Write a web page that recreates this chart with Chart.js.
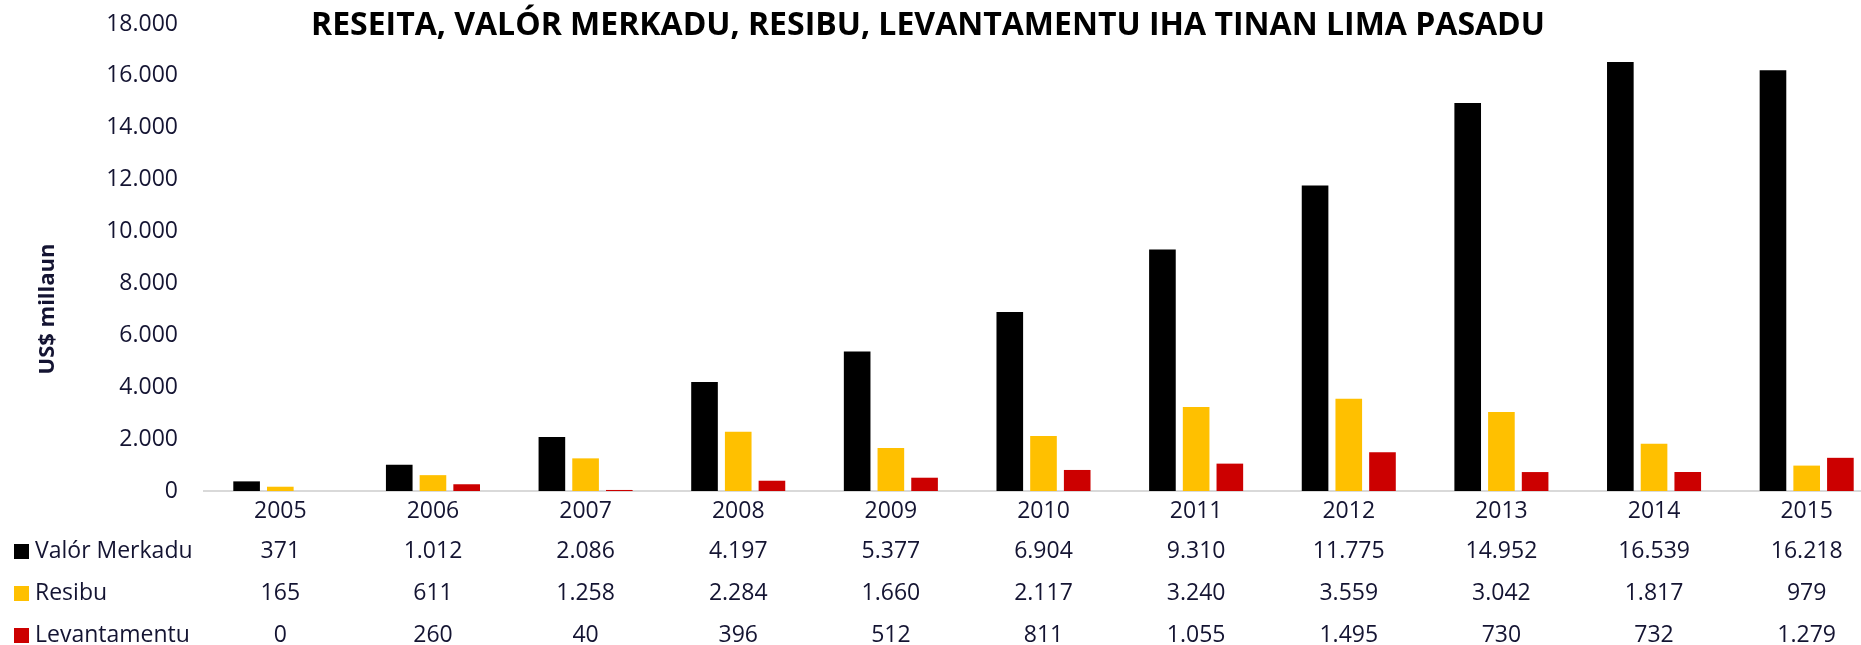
<!DOCTYPE html>
<html>
<head>
<meta charset="utf-8">
<script src="https://cdn.jsdelivr.net/npm/chart.js@4.4.1/dist/chart.umd.min.js"></script>
<style>
  html, body { margin: 0; padding: 0; background: #fff; overflow: hidden; }
  #wrap { width: 1861px; height: 645px; overflow: hidden; }
</style>
</head>
<body>
<div id="wrap">
  <canvas id="myChart" width="1890" height="645"></canvas>
</div>
<script>
const anos = ['2005', '2006', '2007', '2008', '2009', '2010', '2011', '2012', '2013', '2014', '2015'];
const valorMerkadu = [371, 1012, 2086, 4197, 5377, 6904, 9310, 11775, 14952, 16539, 16218];
const resibu = [165, 611, 1258, 2284, 1660, 2117, 3240, 3559, 3042, 1817, 979];
const levantamentu = [0, 260, 40, 396, 512, 811, 1055, 1495, 730, 732, 1279];
const naranSerie = ['Valór Merkadu', 'Resibu', 'Levantamentu'];
const koresSerie = ['#000000', '#FFC000', '#CC0000'];
const titulu = 'RESEITA, VALÓR MERKADU, RESIBU, LEVANTAMENTU IHA TINAN LIMA PASADU';
const tituluEixoY = 'US$ millaun';

const koresTestu = '#141432';

function formatNumeru(v) {
  return String(v).replace(/\B(?=(\d{3})+(?!\d))/g, '.');
}

Chart.defaults.font.family = "'Open Sans', sans-serif";

const tabelaPlugin = {
  id: 'tabelaDadus',
  afterDraw(chart) {
    const ctx = chart.ctx;
    const x = chart.scales.x;
    const series = [valorMerkadu, resibu, levantamentu];
    const linhaY = [551, 593, 635];

    ctx.save();
    // titulu
    ctx.fillStyle = '#000';
    ctx.font = "bold 32px 'Open Sans', sans-serif";
    ctx.textAlign = 'center';
    ctx.textBaseline = 'middle';
    ctx.fillText(titulu, 928, 26);

    // titulu eixo Y
    ctx.save();
    ctx.translate(48, 309);
    ctx.rotate(-Math.PI / 2);
    ctx.fillStyle = koresTestu;
    ctx.font = "bold 22px 'Open Sans', sans-serif";
    ctx.fillText(tituluEixoY, 0, 0);
    ctx.restore();

    // tabela
    ctx.font = "23px 'Open Sans', sans-serif";
    series.forEach((dadus, r) => {
      const y = linhaY[r];
      ctx.fillStyle = koresSerie[r];
      ctx.fillRect(14, y - 7, 15, 15);
      ctx.fillStyle = koresTestu;
      ctx.textAlign = 'left';
      ctx.fillText(naranSerie[r], 35, y);
      ctx.textAlign = 'center';
      dadus.forEach((v, i) => {
        ctx.fillText(formatNumeru(v), x.getPixelForValue(i), y);
      });
    });
    ctx.restore();
  }
};

const ctx = document.getElementById('myChart').getContext('2d');

const data = {
  labels: anos,
  datasets: [
    { label: naranSerie[0], data: valorMerkadu, backgroundColor: koresSerie[0] },
    { label: naranSerie[1], data: resibu, backgroundColor: koresSerie[1] },
    { label: naranSerie[2], data: levantamentu, backgroundColor: koresSerie[2] },
  ],
};

const config = {
  type: 'bar',
  data: data,
  options: {
    responsive: false,
    animation: false,
    categoryPercentage: 0.6625,
    barPercentage: 0.79,
    layout: { padding: { left: 0, right: 7, top: 24, bottom: 0 } },
    plugins: {
      legend: { display: false },
      tooltip: { enabled: false },
    },
    scales: {
      x: {
        grid: { display: false, drawTicks: false },
        border: { display: true, color: '#d9d9d9', width: 2 },
        ticks: { color: koresTestu, font: { size: 23 }, padding: 7 },
        afterFit(scale) { scale.height = 154; },
      },
      y: {
        min: 0,
        max: 18000,
        grid: { display: false, drawTicks: false },
        border: { display: false },
        ticks: {
          stepSize: 2000,
          color: koresTestu,
          font: { size: 23 },
          padding: 26,
          callback: (v) => formatNumeru(v),
        },
        afterFit(scale) {
          scale.width = 204;
          scale.paddingTop = 0;
          scale.paddingBottom = 0;
        },
      },
    },
  },
  plugins: [tabelaPlugin],
};

const myChart = new Chart(ctx, config);
</script>
</body>
</html>
